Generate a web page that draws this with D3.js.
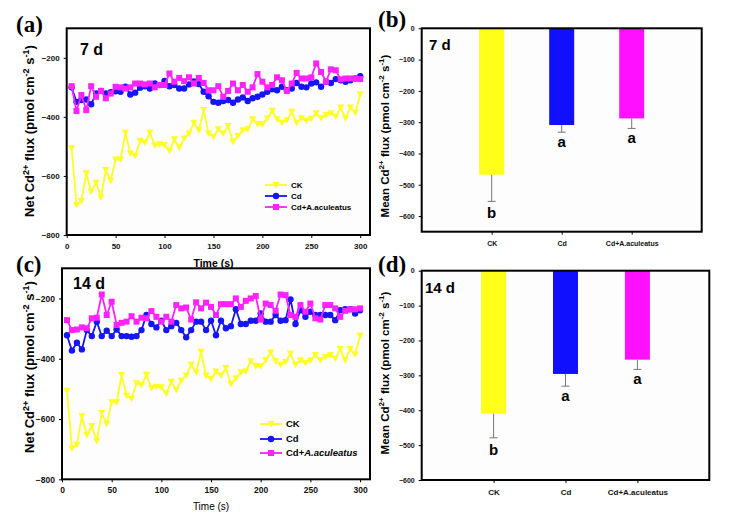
<!DOCTYPE html>
<html><head><meta charset="utf-8">
<script src="https://cdn.jsdelivr.net/npm/d3@7"></script>
<style>
body{margin:0;background:#fff;}
svg{display:block;font-family:"Liberation Sans",Arial,sans-serif;}
</style></head>
<body><svg id="c" width="729" height="525"></svg>
<script>
const times = [5,10,15,20,25,30,35,40,45,50,55,60,65,70,75,80,85,90,95,100,105,110,115,120,125,130,135,140,145,150,155,160,165,170,175,180,185,190,195,200,205,210,215,220,225,230,235,240,245,250,255,260,265,270,275,280,285,290,295,300];
const ck7 = [-506,-698,-685,-591,-653,-623,-673,-580,-616,-544,-544,-454,-523,-532,-481,-487,-454,-497,-493,-495,-515,-476,-504,-473,-456,-420,-445,-377,-456,-467,-442,-456,-431,-484,-465,-445,-442,-408,-424,-425,-405,-379,-408,-420,-411,-383,-420,-405,-413,-406,-388,-405,-394,-388,-399,-368,-405,-368,-386,-324];
const cd7 = [-300,-349,-343,-341,-357,-321,-312,-321,-316,-313,-315,-298,-324,-318,-301,-296,-304,-287,-292,-278,-296,-292,-304,-304,-290,-280,-289,-315,-330,-349,-352,-346,-343,-352,-341,-334,-346,-337,-332,-324,-315,-306,-310,-298,-310,-304,-285,-298,-300,-287,-283,-298,-281,-285,-272,-276,-281,-276,-270,-262];
const cda7 = [-296,-380,-326,-377,-296,-332,-312,-337,-321,-298,-300,-304,-300,-287,-287,-290,-287,-300,-292,-292,-253,-281,-268,-279,-266,-287,-268,-285,-310,-310,-296,-332,-312,-287,-310,-292,-315,-300,-255,-281,-300,-292,-266,-276,-312,-287,-251,-270,-270,-266,-219,-248,-281,-239,-242,-273,-270,-270,-270,-272];
const ck14 = ck7.slice();
const cd14 = [-322,-373,-347,-369,-305,-325,-277,-325,-307,-325,-303,-325,-325,-327,-325,-305,-255,-285,-296,-274,-305,-292,-281,-305,-329,-305,-277,-277,-305,-274,-322,-274,-299,-292,-236,-285,-285,-274,-274,-250,-277,-277,-255,-274,-272,-203,-285,-239,-261,-244,-255,-255,-255,-255,-272,-239,-236,-236,-250,-239];
const cda14 = [-272,-305,-303,-296,-299,-266,-264,-187,-255,-211,-288,-281,-277,-259,-277,-264,-266,-242,-261,-277,-261,-277,-222,-233,-230,-270,-213,-233,-214,-228,-255,-219,-219,-219,-200,-228,-208,-200,-192,-270,-217,-222,-241,-187,-189,-255,-261,-222,-244,-217,-266,-270,-222,-222,-233,-261,-241,-236,-236,-233];
const xTicks = [0,50,100,150,200,250,300];
const yTicksLine = [-800,-600,-400,-200];
const groups = ["CK","Cd","Cd+A.aculeatus"];
const mean7 = [-468,-309,-288];
const err7 = [85,23,32];
const letters7 = ["b","a","a"];
const mean14 = [-410,-296,-255];
const err14 = [69,35,28];
const letters14 = ["b","a","a"];
const yTicksBar = [0,-100,-200,-300,-400,-500,-600];

const COL = {ck:"#ffff22", cd:"#1515f5", cda:"#ff22ff"};
const BARCOL = ["#ffff1a","#1010ff","#ff10ff"];
const svg = d3.select("#c");

function ytitle(g, x, y, fs, prefix, weight){
  const t = g.append("text").attr("transform",`translate(${x},${y}) rotate(-90)`)
    .attr("text-anchor","middle").attr("font-size",fs).attr("font-weight",weight||"bold");
  const s = fs*0.7, up = fs*0.42;
  t.append("tspan").text(prefix+" Cd");
  t.append("tspan").attr("font-size",s).attr("dy",-up).text("2+");
  t.append("tspan").attr("dy",up).text(" flux (pmol cm");
  t.append("tspan").attr("font-size",s).attr("dy",-up).text("-2");
  t.append("tspan").attr("dy",up).text(" s");
  t.append("tspan").attr("font-size",s).attr("dy",-up).text("-1");
  t.append("tspan").attr("dy",up).text(")");
}

function marker(g, type, x, y, color){
  if(type==="tri"){
    g.append("path").attr("d",`M${x-3.5},${y-3}L${x+3.5},${y-3}L${x},${y+3.5}Z`).attr("fill",color);
  } else if(type==="circ"){
    g.append("circle").attr("cx",x).attr("cy",y).attr("r",3.2).attr("fill",color);
  } else {
    g.append("rect").attr("x",x-3).attr("y",y-3).attr("width",6).attr("height",6).attr("fill",color);
  }
}

function linePanel(o){
  const x = d3.scaleLinear().domain([0,310]).range([o.l,o.r]);
  const y = d3.scaleLinear().domain([-800,-100]).range([o.b,o.t]);
  const g = svg.append("g");
  g.append("rect").attr("x",o.l).attr("y",o.t).attr("width",o.r-o.l).attr("height",o.b-o.t).attr("fill","#fdfdfd");
  const series = [
    {v:o.ck, c:COL.ck, m:"tri"},
    {v:o.cd, c:COL.cd, m:"circ"},
    {v:o.cda, c:COL.cda, m:"sq"}];
  const line = d3.line().x((d,i)=>x(times[i])).y(d=>y(d));
  series.forEach(s=>{
    g.append("path").datum(s.v).attr("d",line).attr("fill","none").attr("stroke",s.c).attr("stroke-width",1.8);
    s.v.forEach((d,i)=>marker(g,s.m,x(times[i]),y(d),s.c));
  });
  const ax = g.append("g").attr("transform",`translate(0,${o.b})`)
    .call(d3.axisBottom(x).tickValues(xTicks).tickSize(3).tickPadding(5));
  ax.select(".domain").remove();
  ax.selectAll("text").attr("font-size",o.tfs).attr("font-weight","bold").attr("font-family","Liberation Sans").attr("fill","#111");
  const ay = g.append("g").attr("transform",`translate(${o.l},0)`)
    .call(d3.axisLeft(y).tickValues(yTicksLine).tickSize(3).tickPadding(4));
  ay.select(".domain").remove();
  ay.selectAll("text").attr("font-size",o.tfs).attr("font-weight","bold").attr("font-family","Liberation Sans").attr("fill","#111");
  g.append("rect").attr("x",o.l).attr("y",o.t).attr("width",o.r-o.l).attr("height",o.b-o.t).attr("fill","none").attr("stroke","#000").attr("stroke-width",2);
  g.append("text").attr("x",o.lx).attr("y",o.ly).attr("font-family","Liberation Serif").attr("font-weight","bold").attr("font-size",23).text(o.tag);
  g.append("text").attr("x",o.dx).attr("y",o.dy).attr("font-weight","bold").attr("font-size",o.dfs).text(o.day);
  ytitle(g, o.ytx, o.yty, o.yfs, "Net");
  g.append("text").attr("x",(x(0)+x(300))/2).attr("y",o.xty).attr("text-anchor","middle")
    .attr("font-size",o.xfs).attr("font-weight",o.xw).text("Time (s)");
  const names = ["CK","Cd","Cd+"];
  series.forEach((s,i)=>{
    const yy = o.legY[i];
    g.append("line").attr("x1",o.legX).attr("x2",o.legX+22).attr("y1",yy).attr("y2",yy).attr("stroke",s.c).attr("stroke-width",1.8);
    marker(g,s.m,o.legX+11,yy,s.c);
    const t = g.append("text").attr("x",o.legX+26).attr("y",yy+o.lfs*0.35).attr("font-size",o.lfs).attr("font-weight","bold");
    if(i<2) t.text(names[i]);
    else { t.append("tspan").text("Cd+"); t.append("tspan").attr("font-style",o.italic?"italic":"normal").text("A.aculeatus"); }
  });
}

function barPanel(o){
  const x = d3.scalePoint().domain(groups).range([o.l,o.r]).padding(1);
  const y = d3.scaleLinear().domain([o.ymin,0]).range([o.b,o.t]);
  const g = svg.append("g");
  g.append("rect").attr("x",o.l).attr("y",o.t).attr("width",o.r-o.l).attr("height",o.b-o.t).attr("fill","#fdfdfd");
  const bw = 25;
  groups.forEach((k,i)=>{
    const cx = x(k);
    g.append("rect").attr("x",cx-bw/2).attr("y",y(0)).attr("width",bw).attr("height",y(o.mean[i])-y(0)).attr("fill",BARCOL[i]);
    const ye = y(o.mean[i]-o.err[i]);
    g.append("line").attr("x1",cx).attr("x2",cx).attr("y1",y(o.mean[i])).attr("y2",ye).attr("stroke","#777").attr("stroke-width",1);
    g.append("line").attr("x1",cx-4).attr("x2",cx+4).attr("y1",ye).attr("y2",ye).attr("stroke","#777").attr("stroke-width",1);
    g.append("text").attr("x",cx).attr("y",ye+(i===0?17:15)).attr("text-anchor","middle").attr("font-size",15).attr("font-weight","bold").text(o.letters[i]);
  });
  const ax = g.append("g").attr("transform",`translate(0,${o.b})`)
    .call(d3.axisBottom(x).tickSize(3).tickPadding(6));
  ax.select(".domain").remove();
  ax.selectAll("text").attr("font-size",o.cfs).attr("font-weight","bold").attr("font-family","Liberation Sans").attr("fill","#111");
  const ay = g.append("g").attr("transform",`translate(${o.l},0)`)
    .call(d3.axisLeft(y).tickValues(yTicksBar).tickSize(3).tickPadding(4));
  ay.select(".domain").remove();
  ay.selectAll("text").attr("font-size",o.tfs).attr("font-weight","bold").attr("font-family","Liberation Sans").attr("fill","#111");
  g.append("rect").attr("x",o.l).attr("y",o.t).attr("width",o.r-o.l).attr("height",o.b-o.t).attr("fill","none").attr("stroke","#000").attr("stroke-width",2);
  g.append("text").attr("x",o.lx).attr("y",o.ly).attr("font-family","Liberation Serif").attr("font-weight","bold").attr("font-size",23).text(o.tag);
  g.append("text").attr("x",o.dx).attr("y",o.dy).attr("font-weight","bold").attr("font-size",o.dfs).text(o.day);
  ytitle(g, o.ytx, o.yty, o.yfs, "Mean");
}

linePanel({l:66.7,r:370,t:28.3,b:235,ck:ck7,cd:cd7,cda:cda7,tfs:8,tag:"(a)",lx:16,ly:32,day:"7 d",dx:80,dy:55,dfs:16,
  ytx:34,yty:131,yfs:13,xty:267,xfs:10.5,xw:"bold",legX:265,legY:[185,196,207],lfs:8,italic:false});
linePanel({l:62,r:370,t:268.3,b:479.3,ck:ck14,cd:cd14,cda:cda14,tfs:8.5,tag:"(c)",lx:16,ly:272,day:"14 d",dx:73,dy:289,dfs:16,
  ytx:34,yty:367,yfs:13,xty:510,xfs:10,xw:"normal",legX:260,legY:[424,439,453],lfs:9.5,italic:true});
barPanel({l:421.7,r:701.7,t:28.3,b:231.7,ymin:-650,mean:mean7,err:err7,letters:letters7,tag:"(b)",lx:378,ly:27,
  day:"7 d",dx:429,dy:50,dfs:15,ytx:389,yty:136,yfs:11.5,cfs:7,tfs:7});
barPanel({l:421.7,r:709.3,t:270.7,b:480,ymin:-600,mean:mean14,err:err14,letters:letters14,tag:"(d)",lx:378,ly:272,
  day:"14 d",dx:425,dy:293,dfs:15,ytx:389,yty:373,yfs:11.5,cfs:8,tfs:7});
</script></body></html>
